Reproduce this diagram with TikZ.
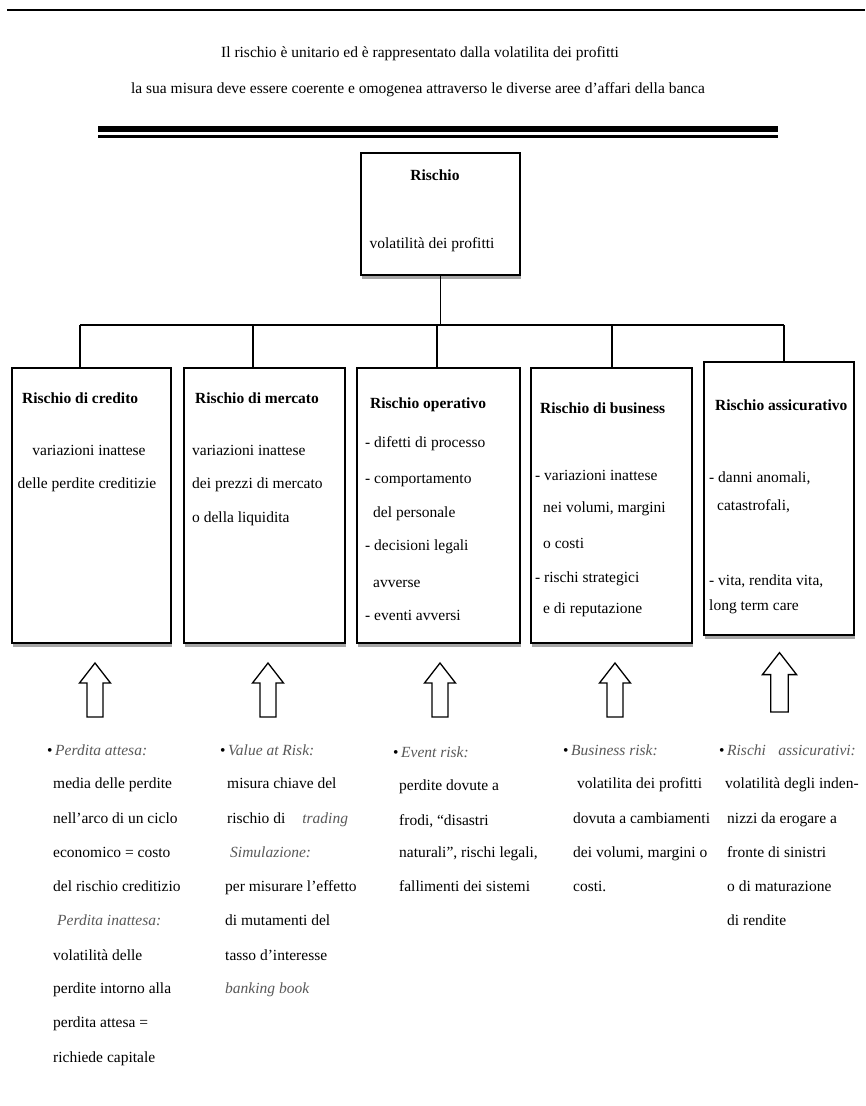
\documentclass[tikz,border=0pt]{standalone}
\usepackage{fontspec}
\setmainfont{Liberation Serif}
\usetikzlibrary{shadows,calc}
\newcommand\fsz{\fontsize{15.5}{20}\selectfont}
\newcommand\itg[1]{\textcolor{black!65}{\textit{#1}}}
\begin{document}
\begin{tikzpicture}[x=1pt,y=1pt,
  rbox/.style={draw, line width=1.5pt, fill=white, inner sep=0,
    drop shadow={shadow xshift=1pt, shadow yshift=-3.5pt, fill=gray!70, opacity=1}},
  conn/.style={line width=1.4pt},
  tl/.style={inner sep=0, anchor=base west, font=\fsz},
  tc/.style={inner sep=0, anchor=base, font=\fsz},
  bt/.style={inner sep=0, anchor=base west, font=\fsz\bfseries},
  uarr/.pic={\draw[line width=1.3pt, fill=white, line join=miter]
     (-8,0) -- (-8,34) -- (-15.5,34) -- (0,54) -- (15.5,34) -- (8,34) -- (8,0) -- cycle;}
]
\useasboundingbox (0,0) rectangle (865,-1106);
\fill[white] (0,0) rectangle (865,-1106);

% rules at top
\draw[line width=2.5pt] (7,-10) -- (865,-10);
\draw[line width=6pt] (98,-129) -- (778,-129);
\draw[line width=3pt] (98,-136) -- (778,-136);

% heading
\node[tc] (h1) at (420,-57) {Il rischio è unitario ed è rappresentato dalla volatilita dei profitti};
\node[tc] (h2) at (418,-93) {la sua misura deve essere coerente e omogenea attraverso le diverse aree d'affari della banca};

% boxes
\node[rbox, minimum width=159, minimum height=122] (b0) at (440.5,-214) {};
\node[rbox, minimum width=159, minimum height=275] (b1) at (91.5,-505.5) {};
\node[rbox, minimum width=161, minimum height=275] (b2) at (264.5,-505.5) {};
\node[rbox, minimum width=163, minimum height=275] (b3) at (438.5,-505.5) {};
\node[rbox, minimum width=161, minimum height=275] (b4) at (611.5,-505.5) {};
\node[rbox, minimum width=150, minimum height=273] (b5) at (779,-498.5) {};

% connectors
\coordinate (s1) at (80,-325);
\coordinate (s2) at (253,-325);
\coordinate (s3) at (437,-325);
\coordinate (s4) at (612,-325);
\coordinate (s5) at (784,-325);
\draw[conn] (b0.south) -- (b0.south |- s1);
\draw[conn] (s1) -- (s5);
\draw[conn] (s1) -- (s1 |- b1.north);
\draw[conn] (s2) -- (s2 |- b2.north);
\draw[conn] (s3) -- (s3 |- b3.north);
\draw[conn] (s4) -- (s4 |- b4.north);
\draw[conn] (s5) -- (s5 |- b5.north);

% top box text
\node[inner sep=0, anchor=base, font=\fsz\bfseries] (r0) at (435,-180) {Rischio};
\node[tc] (r1) at (432,-248) {volatilità dei profitti};

% box 1
\node[bt] (c0) at (22,-403) {Rischio di credito};
\node[tc] (c1) at (89,-455) {variazioni inattese};
\node[tc] (c2) at (87,-488) {delle perdite creditizie};

% box 2
\node[bt] (m0) at (195,-403) {Rischio di mercato};
\node[tl] (m1) at (192,-455) {variazioni inattese};
\node[tl] (m2) at (192,-488) {dei prezzi di mercato};
\node[tl] (m3) at (192,-522) {o della liquidita};

% box 3
\node[bt] (o0) at (370,-408) {Rischio operativo};
\node[tl] (o1) at (365,-447) {- difetti di processo};
\node[tl] (o2) at (365,-483) {- comportamento};
\node[tl] (o3) at (373,-517) {del personale};
\node[tl] (o4) at (365,-550) {- decisioni legali};
\node[tl] (o5) at (373,-587) {avverse};
\node[tl] (o6) at (365,-620) {- eventi avversi};

% box 4
\node[bt] (u0) at (540,-413) {Rischio di business};
\node[tl] (u1) at (535,-480) {- variazioni inattese};
\node[tl] (u2) at (543,-512) {nei volumi, margini};
\node[tl] (u3) at (543,-548) {o costi};
\node[tl] (u4) at (535,-582) {- rischi strategici};
\node[tl] (u5) at (543,-613) {e di reputazione};

% box 5
\node[bt] (a0) at (715,-410) {Rischio assicurativo};
\node[tl] (a1) at (709,-482) {- danni anomali,};
\node[tl] (a2) at (717,-510) {catastrofali,};
\node[tl] (a3) at (709,-585) {- vita, rendita vita,};
\node[tl] (a4) at (709,-610) {long term care};

% block arrows
\pic at (95,-717) {uarr};
\pic at (268,-717) {uarr};
\pic at (440,-717) {uarr};
\pic at (615,-717) {uarr};
\pic[scale=1.1] at (779.5,-712) {uarr};

% column 1
\node[tl] (p1) at (47,-755) {•\,\itg{Perdita attesa:}};
\node[tl] (p2) at (53,-788) {media delle perdite};
\node[tl] (p3) at (53,-823) {nell'arco di un ciclo};
\node[tl] (p4) at (53,-857) {economico = costo};
\node[tl] (p5) at (53,-891) {del rischio creditizio};
\node[tl] (p6) at (57,-925) {\itg{Perdita inattesa:}};
\node[tl] (p7) at (53,-960) {volatilità delle};
\node[tl] (p8) at (53,-993) {perdite intorno alla};
\node[tl] (p9) at (53,-1027) {perdita attesa =};
\node[tl] (p10) at (53,-1062) {richiede capitale};

% column 2
\node[tl] (v1) at (220,-755) {•\,\itg{Value at Risk:}};
\node[tl] (v2) at (227,-788) {misura chiave del};
\node[tl] (v3) at (227,-823) {rischio di\hspace{1.1em}\itg{trading}};
\node[tl] (v4) at (230,-857) {\itg{Simulazione:}};
\node[tl] (v5) at (225,-891) {per misurare l'effetto};
\node[tl] (v6) at (225,-925) {di mutamenti del};
\node[tl] (v7) at (225,-960) {tasso d'interesse};
\node[tl] (v8) at (225,-993) {\itg{banking book}};

% column 3
\node[tl] (e1) at (393,-757) {•\,\itg{Event risk:}};
\node[tl] (e2) at (399,-790) {perdite dovute a};
\node[tl] (e3) at (399,-825) {frodi, “disastri};
\node[tl] (e4) at (399,-857) {naturali”, rischi legali,};
\node[tl] (e5) at (399,-891) {fallimenti dei sistemi};

% column 4
\node[tl] (k1) at (563,-755) {•\,\itg{Business risk:}};
\node[tl] (k2) at (577,-788) {volatilita dei profitti};
\node[tl] (k3) at (573,-823) {dovuta a cambiamenti};
\node[tl] (k4) at (573,-857) {dei volumi, margini o};
\node[tl] (k5) at (573,-891) {costi.};

% column 5
\node[tl] (i1) at (719,-755) {•\,\itg{Rischi\hspace{0.8em}assicurativi:}};
\node[tl] (i2) at (725,-788) {volatilità degli inden-};
\node[tl] (i3) at (727,-823) {nizzi da erogare a};
\node[tl] (i4) at (727,-857) {fronte di sinistri};
\node[tl] (i5) at (727,-891) {o di maturazione};
\node[tl] (i6) at (727,-925) {di rendite};
\end{tikzpicture}
\end{document}
